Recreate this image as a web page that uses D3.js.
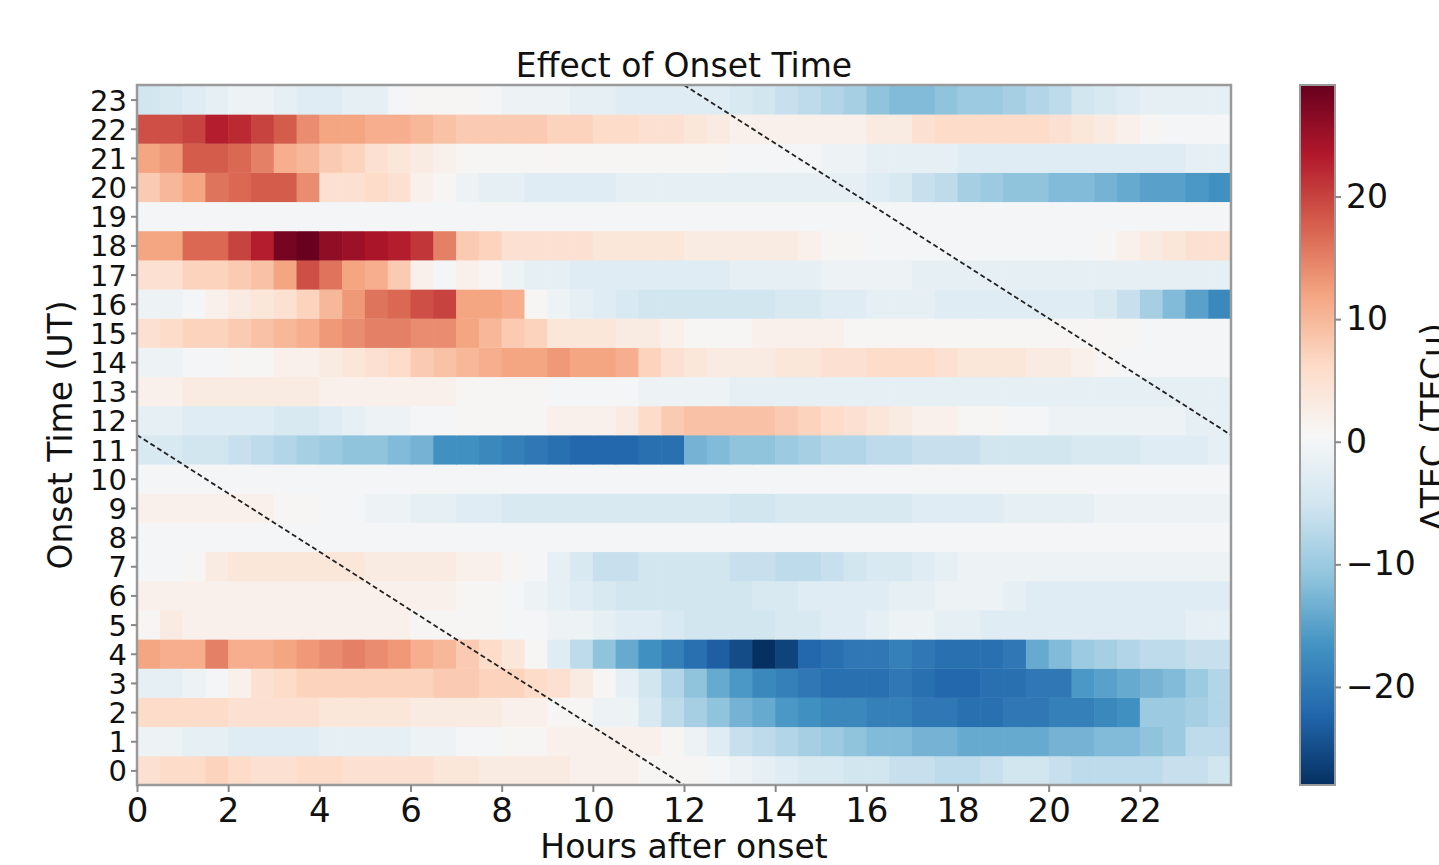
<!DOCTYPE html>
<html>
<head>
<meta charset="utf-8">
<script src="https://cdn.jsdelivr.net/npm/d3@7"></script>
<style>
  body { margin: 0; background: #fff; }
  text { font-family: 'DejaVu Sans', sans-serif; fill: #111; }
</style>
</head>
<body>
<div id="chart"></div>
<script>
// onset hour (UT) of each row, bottom to top
const onsets = [0, 1, 2, 3, 4, 5, 6, 7, 8, 9, 10, 11, 12, 13, 14, 15, 16, 17, 18, 19, 20, 21, 22, 23]
const xTicks = [0, 2, 4, 6, 8, 10, 12, 14, 16, 18, 20, 22]
const cbTicks = [-20, -10, 0, 10, 20]
const binHours = 0.5   // each value covers half an hour after onset
const vmin = -28
const vmax = 29.1

// dTEC (TECu), 48 half-hour bins from 0 to 24 h after onset
const ut00 = [5,6,6,7,6,5,5,6,6,5,5,5,5,4,4,3,3,3,3,2,2,2,1,1, 1,0,-1,-2,-3,-4,-4,-5,-5,-6,-6,-7,-7,-6,-5,-5,-6,-7,-7,-7,-7,-6,-6,-5]
const ut01 = [-1,-1,-2,-2,-3,-3,-3,-3,-2,-2,-2,-2,-1,-1,0,0,1,1,2,2,2,2,2,1, -1,-3,-6,-7,-8,-9,-10,-11,-12,-12,-13,-13,-14,-14,-14,-14,-13,-13,-12,-12,-11,-10,-7,-7]
const ut02 = [6,6,6,6,5,5,5,5,4,4,4,4,3,3,3,3,2,2,1,1,-1,-1,-4,-7, -9,-11,-13,-14,-16,-17,-18,-18,-19,-19,-20,-20,-21,-21,-20,-20,-19,-19,-18,-17,-10,-10,-9,-8]
const ut03 = [-2,-2,-1,0,2,5,6,7,7,7,7,7,7,8,8,7,7,6,5,3,1,-2,-5,-8, -11,-14,-16,-18,-19,-20,-21,-21,-21,-20,-21,-22,-22,-21,-21,-20,-20,-16,-15,-14,-13,-12,-10,-8]
const ut04 = [12,11,11,15,11,11,12,13,14,15,14,13,11,10,8,6,4,1,-3,-7,-11,-14,-17,-19, -21,-23,-25,-28,-26,-22,-21,-20,-20,-19,-20,-21,-21,-21,-20,-14,-12,-10,-9,-8,-7,-7,-6,-6]
const ut05 = [1,3,2,2,2,2,2,2,2,2,2,2,1,1,1,1,0,0,-1,-1,-2,-3,-3,-4, -5,-5,-5,-5,-4,-4,-3,-3,-2,-1,-1,-2,-2,-3,-3,-3,-3,-3,-3,-3,-3,-3,-2,-2]
const ut06 = [2,2,2,2,2,2,2,2,2,2,2,2,2,2,1,1,0,-1,-2,-3,-4,-5,-5,-5, -5,-5,-5,-4,-4,-3,-3,-3,-3,-2,-2,-1,-1,-1,-2,-3,-3,-3,-3,-3,-3,-3,-3,-3]
const ut07 = [0,0,1,3,4,4,4,4,4,4,3,3,3,3,2,2,1,0,-2,-4,-6,-6,-5,-5, -5,-5,-6,-6,-7,-7,-6,-5,-4,-4,-3,-2,-1,-1,-1,-1,-1,-1,-1,-1,-1,-1,-1,-1]
const ut08 = [0,0,0,0,0,0,0,0,0,0,0,0,0,0,0,0,0,0,0,0,0,0,0,0, 0,0,0,0,0,0,0,0,0,0,0,0,0,0,0,0,0,0,0,0,0,0,0,0]
const ut09 = [2,2,2,2,2,2,1,1,0,0,-1,-1,-2,-2,-3,-3,-4,-4,-4,-4,-4,-4,-4,-4, -4,-4,-5,-5,-4,-4,-4,-4,-4,-4,-3,-3,-3,-3,-2,-2,-2,-2,-1,-1,-1,-1,-1,-1]
const ut10 = [0,0,0,0,0,0,0,0,0,0,0,0,0,0,0,0,0,0,0,0,0,0,0,0, 0,0,0,0,0,0,0,0,0,0,0,0,0,0,0,0,0,0,0,0,0,0,0,0]
const ut11 = [-4,-4,-5,-5,-6,-7,-8,-9,-10,-11,-11,-12,-13,-17,-17,-18,-19,-20,-21,-22,-22,-22,-21,-21, -13,-12,-11,-11,-10,-9,-8,-8,-7,-7,-6,-6,-6,-5,-5,-5,-5,-4,-4,-4,-3,-3,-3,-2]
const ut12 = [-2,-2,-3,-3,-3,-3,-4,-4,-3,-2,-1,-1,0,0,1,1,1,1,2,2,2,3,6,8, 9,9,9,9,8,7,6,5,4,3,2,2,1,1,0,0,-1,-1,-1,-1,-1,-1,-2,-2]
const ut13 = [2,2,3,3,3,3,3,3,2,2,2,2,2,2,1,1,1,1,0,0,0,0,-1,-1, -1,-1,-2,-2,-2,-2,-2,-2,-2,-2,-2,-2,-2,-2,-2,-2,-2,-2,-2,-2,-2,-2,-2,-2]
const ut14 = [-1,-1,0,0,1,1,2,2,3,4,5,6,8,9,10,11,12,12,13,12,12,11,7,5, 4,3,3,3,4,4,5,5,6,6,6,5,4,4,4,3,3,2,1,0,0,0,0,0]
const ut15 = [5,6,7,7,8,9,10,11,13,14,15,15,14,14,12,10,8,7,4,4,4,3,3,2, 1,1,1,2,2,2,2,1,1,1,1,1,1,1,1,1,1,1,1,1,0,0,0,0]
const ut16 = [-1,-1,0,2,3,4,5,7,10,13,16,17,19,20,12,12,11,1,-1,-2,-3,-4,-5,-5, -5,-5,-5,-5,-4,-4,-3,-3,-2,-2,-2,-3,-3,-3,-3,-3,-3,-3,-4,-6,-9,-12,-15,-18]
const ut17 = [5,5,7,7,8,9,12,19,16,12,11,8,2,0,2,1,-1,-2,-2,-3,-3,-3,-3,-3, -3,-3,-2,-2,-2,-2,-1,-1,-1,-1,-2,-2,-2,-2,-2,-2,-2,-2,-2,-2,-2,-2,-2,-2]
const ut18 = [12,12,17,17,20,23,28,29,26,25,24,23,21,15,8,7,5,5,5,5,4,4,4,4, 3,3,3,3,3,2,1,1,0,0,0,0,0,0,0,0,0,0,1,2,3,4,5,5]
const ut19 = [0,0,0,0,0,0,0,0,0,0,0,0,0,0,0,0,0,0,0,0,0,0,0,0, 0,0,0,0,0,0,0,0,0,0,0,0,0,0,0,0,0,0,0,0,0,0,0,0]
const ut20 = [8,10,12,16,17,18,18,14,5,5,6,5,2,1,-1,-2,-2,-3,-3,-3,-3,-2,-2,-2, -2,-2,-2,-2,-2,-2,-2,-2,-3,-4,-6,-7,-9,-10,-11,-11,-12,-12,-13,-14,-15,-15,-16,-17]
const ut21 = [12,13,18,18,17,15,11,10,8,7,5,4,3,2,1,1,1,1,1,1,1,1,1,1, 1,1,0,0,0,0,-1,-1,-2,-2,-2,-2,-3,-3,-3,-3,-3,-3,-3,-3,-3,-3,-2,-2]
const ut22 = [19,19,20,23,22,20,18,14,12,12,11,11,10,9,8,8,8,8,7,7,6,6,5,5, 4,3,2,2,2,2,2,2,3,3,5,6,6,6,6,6,5,4,3,2,1,0,0,0]
const ut23 = [-5,-4,-3,-2,-1,-1,-2,-3,-3,-2,-2,0,1,1,1,0,-1,-1,-1,-2,-2,-3,-3,-3, -3,-3,-4,-5,-6,-7,-8,-9,-11,-12,-12,-11,-10,-10,-9,-8,-7,-5,-4,-3,-2,-2,-2,-2]

const rows = [ut00, ut01, ut02, ut03, ut04, ut05, ut06, ut07, ut08, ut09, ut10, ut11,
  ut12, ut13, ut14, ut15, ut16, ut17, ut18, ut19, ut20, ut21, ut22, ut23]

// dashed guides (hours after onset, onset UT)
const guideA = [[0, 11.5], [12, -0.5]]
const guideB = [[12, 23.5], [24, 11.5]]

// matplotlib RdBu, reversed so that high values are red
const rdbu = ['#67001f', '#b2182b', '#d6604d', '#f4a582', '#fddbc7', '#f7f7f7',
  '#d1e5f0', '#92c5de', '#4393c3', '#2166ac', '#053061']

const margin = { top: 85, left: 137, right: 208, bottom: 80 }
const width = 1094
const height = 700

const svg = d3.select('#chart')
  .append('svg')
  .attr('width', 1439)
  .attr('height', 865)

svg.append('rect').attr('width', 1439).attr('height', 865).attr('fill', '#fff')

const colorScale = d3.scaleLinear()
  .domain(d3.range(11).map(i => vmin + i * (vmax - vmin) / 10))
  .range(rdbu.slice().reverse())
  .interpolate(d3.interpolateRgb)
  .clamp(true)

const xPositionScale = d3.scaleLinear().domain([0, 24]).range([0, width])
const yPositionScale = d3.scaleLinear().domain([-0.5, 23.5]).range([height, 0])

const plot = svg.append('g')
  .attr('transform', `translate(${margin.left},${margin.top})`)

// heatmap cells
rows.forEach((values, r) => {
  plot.append('g')
    .selectAll('rect')
    .data(values)
    .enter()
    .append('rect')
    .attr('x', (d, i) => xPositionScale(i * binHours))
    .attr('width', xPositionScale(binHours) - xPositionScale(0) + 0.6)
    .attr('y', yPositionScale(onsets[r] + 0.5))
    .attr('height', yPositionScale(onsets[r] - 0.5) - yPositionScale(onsets[r] + 0.5) + 0.4)
    .attr('fill', d => colorScale(d))
})

// dashed lines
const line = d3.line().x(d => xPositionScale(d[0])).y(d => yPositionScale(d[1]))
;[guideA, guideB].forEach(g => {
  plot.append('path')
    .attr('d', line(g))
    .attr('fill', 'none')
    .attr('stroke', '#222')
    .attr('stroke-width', 1.8)
    .attr('stroke-dasharray', '5,3')
})

// frame
plot.append('rect')
  .attr('width', width)
  .attr('height', height)
  .attr('fill', 'none')
  .attr('stroke', '#9a9a9a')
  .attr('stroke-width', 2.5)

/* axes */
const xAxis = d3.axisBottom(xPositionScale).tickValues(xTicks).tickSize(7).tickPadding(6)
  .tickFormat(d3.format('d'))
const xg = plot.append('g')
  .attr('transform', `translate(0,${height})`)
  .call(xAxis)
xg.select('.domain').remove()
xg.selectAll('line').attr('stroke', '#888').attr('stroke-width', 2)
xg.selectAll('text').attr('font-size', 34).attr('font-family', 'DejaVu Sans').attr('fill', '#111')

const yAxis = d3.axisLeft(yPositionScale).tickValues(onsets).tickSize(6).tickPadding(4)
  .tickFormat(d3.format('d'))
const yg = plot.append('g').call(yAxis)
yg.select('.domain').remove()
yg.selectAll('line').attr('stroke', '#888').attr('stroke-width', 2)
yg.selectAll('text').attr('font-size', 29).attr('font-family', 'DejaVu Sans').attr('fill', '#111')
  .attr('dy', '0.36em')

svg.append('text')
  .attr('x', margin.left + width / 2)
  .attr('y', 77)
  .attr('text-anchor', 'middle')
  .attr('font-size', 33)
  .text('Effect of Onset Time')

svg.append('text')
  .attr('x', margin.left + width / 2)
  .attr('y', 858)
  .attr('text-anchor', 'middle')
  .attr('font-size', 33)
  .text('Hours after onset')

svg.append('text')
  .attr('transform', `translate(72,${margin.top + height / 2}) rotate(-90)`)
  .attr('text-anchor', 'middle')
  .attr('font-size', 33)
  .text('Onset Time (UT)')

/* colorbar */
const cbX = 1300
const cbW = 35
const cbScale = d3.scaleLinear().domain([vmin, vmax]).range([margin.top + height, margin.top])
const cb = svg.append('g')
const cbSteps = d3.range(cbScale.range()[1], cbScale.range()[0], 1)
cb.selectAll('rect')
  .data(cbSteps)
  .enter()
  .append('rect')
  .attr('x', cbX)
  .attr('y', d => d)
  .attr('width', cbW)
  .attr('height', 1.5)
  .attr('fill', d => colorScale(cbScale.invert(d + 0.5)))
cb.append('rect')
  .attr('x', cbX)
  .attr('y', margin.top)
  .attr('width', cbW)
  .attr('height', height)
  .attr('fill', 'none')
  .attr('stroke', '#9a9a9a')
  .attr('stroke-width', 2)

const cbAxis = d3.axisRight(cbScale).tickValues(cbTicks).tickSize(6).tickPadding(5)
  .tickFormat(d => d < 0 ? '\u2212' + Math.abs(d) : d)
const cbg = svg.append('g').attr('transform', `translate(${cbX + cbW},0)`).call(cbAxis)
cbg.select('.domain').remove()
cbg.selectAll('line').attr('stroke', '#888').attr('stroke-width', 2)
cbg.selectAll('text').attr('font-size', 33).attr('font-family', 'DejaVu Sans').attr('fill', '#111')

svg.append('text')
  .attr('transform', `translate(1445,${margin.top + height / 2 - 8}) rotate(-90)`)
  .attr('text-anchor', 'middle')
  .attr('font-size', 33)
  .text('\u0394TEC (TECu)')
</script>
</body>
</html>
